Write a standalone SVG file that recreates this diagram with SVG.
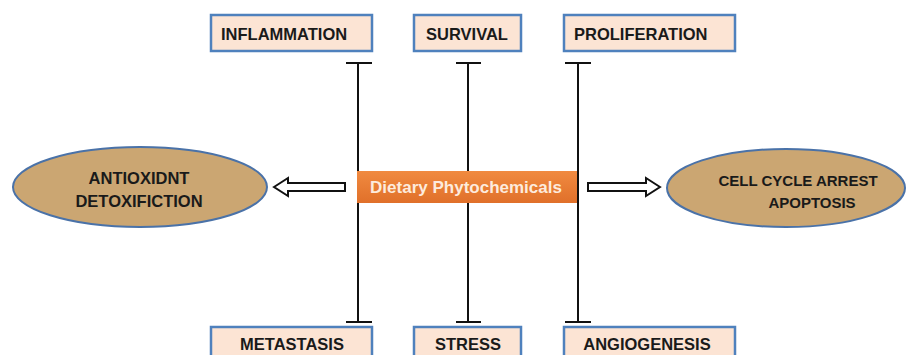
<svg xmlns="http://www.w3.org/2000/svg" width="910" height="355" viewBox="0 0 910 355">
<style>
.box{fill:#FCE4D4;stroke:#4F81BD;stroke-width:2.5}
.bt{font-family:"Liberation Sans",Arial,sans-serif;font-weight:bold;font-size:16.5px;fill:#1a1a1a}
.ell{fill:#CBA672;stroke:#4A72A8;stroke-width:2}
.et{font-family:"Liberation Sans",Arial,sans-serif;font-weight:bold;font-size:16.5px;fill:#1a1a1a;text-anchor:middle}
.ln{stroke:#111;stroke-width:2;fill:none}
.arr{fill:#fff;stroke:#111;stroke-width:2;stroke-linejoin:miter}
</style>
<defs>
<linearGradient id="og" x1="0" y1="0" x2="0" y2="1">
<stop offset="0" stop-color="#F08A40"/>
<stop offset="1" stop-color="#E0702A"/>
</linearGradient>
</defs>
<g id="connectors">
<path class="ln" d="M358 63V322M346 63H372M346 322H372"/>
<path class="ln" d="M468 63V322M456 63H481M456 322H481"/>
<path class="ln" d="M578 63V322M565 63H591M565 322H591"/>
<polygon class="arr" points="274,187 288,178 288,183 345,183 345,191 288,191 288,196"/>
<polygon class="arr" points="660,187 646,178 646,183 588,183 588,191 646,191 646,196"/>
</g>
<g id="inflammation"><rect class="box" x="211" y="15" width="161" height="36"/><text class="bt" x="221" y="40">INFLAMMATION</text></g>
<g id="survival"><rect class="box" x="414" y="15" width="107" height="36"/><text class="bt" x="426" y="40">SURVIVAL</text></g>
<g id="proliferation"><rect class="box" x="564" y="15" width="171" height="36"/><text class="bt" x="574" y="40">PROLIFERATION</text></g>
<g id="metastasis"><rect class="box" x="211" y="327" width="161" height="40"/><text class="bt" x="292" y="350" text-anchor="middle">METASTASIS</text></g>
<g id="stress"><rect class="box" x="414" y="327" width="107" height="40"/><text class="bt" x="468" y="350" text-anchor="middle">STRESS</text></g>
<g id="angiogenesis"><rect class="box" x="564" y="327" width="171" height="40"/><text class="bt" x="647" y="350" text-anchor="middle">ANGIOGENESIS</text></g>
<g id="dietary"><rect x="357" y="171" width="220" height="32" fill="url(#og)"/><text x="466" y="193" text-anchor="middle" style="font-family:'Liberation Sans',Arial,sans-serif;font-weight:bold;font-size:17px;fill:#FDEBDD">Dietary Phytochemicals</text></g>
<g id="antioxidnt"><ellipse class="ell" cx="140" cy="187" rx="127" ry="40"/><text class="et" x="139" y="184">ANTIOXIDNT</text><text class="et" x="139" y="207">DETOXIFICTION</text></g>
<g id="apoptosis"><ellipse class="ell" cx="786" cy="188" rx="119" ry="39"/><text class="et" x="798" y="186" style="font-size:15px">CELL CYCLE ARREST</text><text class="et" x="812" y="208" style="font-size:15px">APOPTOSIS</text></g>
</svg>
